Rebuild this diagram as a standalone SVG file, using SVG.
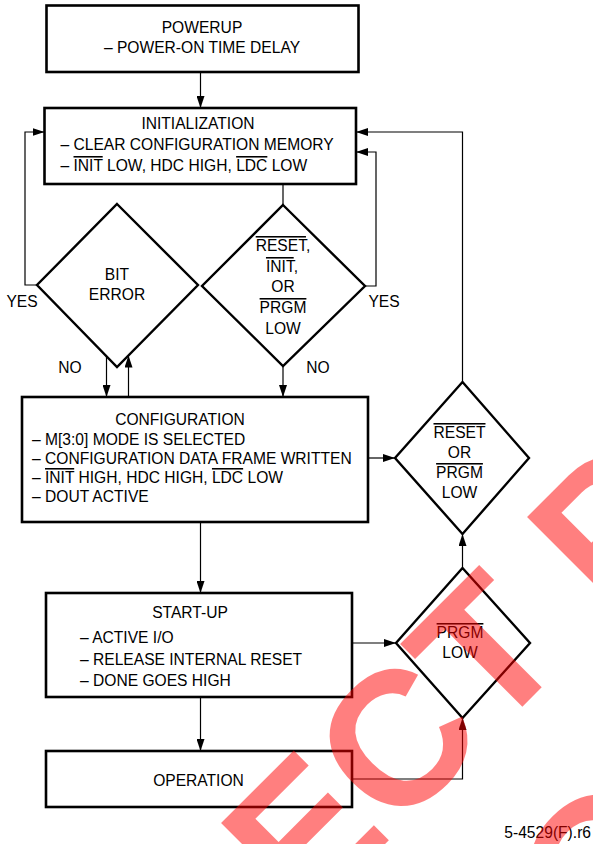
<svg xmlns="http://www.w3.org/2000/svg" width="593" height="844" viewBox="0 0 593 844">
<style>
  .box{fill:#fff;stroke:#000;stroke-width:2.6}
  .dia{fill:#fff;stroke:#000;stroke-width:2.4}
  .t{font-family:"Liberation Sans",Arial,sans-serif;font-size:15.6px;fill:#000}
  .c{text-anchor:middle}
  .ol{text-decoration:overline}
  .con{fill:none;stroke:#000;stroke-width:1.2}
  .wm{font-family:"Liberation Sans",Arial,sans-serif;font-weight:bold;font-size:190px;fill:#ff0000;fill-opacity:0.5}
</style>
<defs>
  <marker id="ah" markerUnits="userSpaceOnUse" markerWidth="12" markerHeight="8" refX="12" refY="4" orient="auto">
    <path d="M0,0 L12,4 L0,8 Z" fill="#000"/>
  </marker>
</defs>
<rect width="593" height="844" fill="#fff"/>

<g id="connectors" class="con" marker-end="url(#ah)">
  <path d="M200.5,72 V108"/>
  <path d="M283,184 V205" marker-end="none"/>
  <path d="M37,285 H25 V132 H44.5"/>
  <path d="M365,286 H376 V152 H356"/>
  <path d="M462.5,382 V132 H356"/>
  <path d="M106.5,356 V397"/>
  <path d="M128.5,397 V355.5"/>
  <path d="M283,366 V397"/>
  <path d="M368,458 H395"/>
  <path d="M200.5,522 V593"/>
  <path d="M352,643 H396"/>
  <path d="M462.5,568 V534"/>
  <path d="M200.5,697 V751"/>
  <path d="M352,779 H462.5 V718"/>
</g>

<g id="powerup">
  <rect class="box" x="46.5" y="5.5" width="312" height="66.5"/>
  <text class="t c" x="202" y="33">POWERUP</text>
  <text class="t c" x="202" y="53">– POWER-ON TIME DELAY</text>
</g>

<g id="initialization">
  <rect class="box" x="44.5" y="108" width="311.5" height="76"/>
  <text class="t c" x="198" y="129">INITIALIZATION</text>
  <text class="t" x="60.5" y="150">– CLEAR CONFIGURATION MEMORY</text>
  <text class="t" x="60.5" y="171">– <tspan class="ol">INIT</tspan> LOW, HDC HIGH, <tspan class="ol">LDC</tspan> LOW</text>
</g>

<g id="bit-error">
  <polygon class="dia" points="117,204 198,285 117,367 37,285"/>
  <text class="t c" x="117" y="280">BIT</text>
  <text class="t c" x="117" y="300">ERROR</text>
</g>

<g id="reset-init-prgm">
  <polygon class="dia" points="283,205 365,286 283,366 202,286"/>
  <text class="t c" x="283" y="251"><tspan class="ol">RESET</tspan>,</text>
  <text class="t c" x="282" y="272"><tspan class="ol">INIT</tspan>,</text>
  <text class="t c" x="283" y="292">OR</text>
  <text class="t c" x="283" y="313"><tspan class="ol">PRGM</tspan></text>
  <text class="t c" x="283" y="334">LOW</text>
</g>

<g id="labels">
  <text class="t c" x="22" y="307">YES</text>
  <text class="t c" x="384" y="307">YES</text>
  <text class="t c" x="70" y="373">NO</text>
  <text class="t c" x="318" y="373">NO</text>
</g>

<g id="configuration">
  <rect class="box" x="22" y="397" width="346" height="125"/>
  <text class="t c" x="180" y="425">CONFIGURATION</text>
  <text class="t" x="32" y="444.5">– M[3:0] MODE IS SELECTED</text>
  <text class="t" x="32" y="463.5">– CONFIGURATION DATA FRAME WRITTEN</text>
  <text class="t" x="32" y="483">– <tspan class="ol">INIT</tspan> HIGH, HDC HIGH, <tspan class="ol">LDC</tspan> LOW</text>
  <text class="t" x="32" y="502">– DOUT ACTIVE</text>
</g>

<g id="reset-prgm">
  <polygon class="dia" points="462.5,382 529,458 462.5,534 395,458"/>
  <text class="t c" x="459.5" y="438"><tspan class="ol">RESET</tspan></text>
  <text class="t c" x="459.5" y="458">OR</text>
  <text class="t c" x="459.5" y="478"><tspan class="ol">PRGM</tspan></text>
  <text class="t c" x="459.5" y="498">LOW</text>
</g>

<g id="start-up">
  <rect class="box" x="46" y="593" width="306" height="104"/>
  <text class="t c" x="190" y="618">START-UP</text>
  <text class="t" x="80" y="643">– ACTIVE I/O</text>
  <text class="t" x="80" y="665">– RELEASE INTERNAL RESET</text>
  <text class="t" x="80" y="686">– DONE GOES HIGH</text>
</g>

<g id="prgm-low">
  <polygon class="dia" points="462.5,568 530,643 462.5,718 396,643"/>
  <text class="t c" x="460" y="638"><tspan class="ol">PRGM</tspan></text>
  <text class="t c" x="460" y="658">LOW</text>
</g>

<g id="operation">
  <rect class="box" x="46" y="751" width="306" height="56"/>
  <text class="t c" x="198.5" y="786">OPERATION</text>
</g>

<text class="t" x="591" y="838" text-anchor="end">5-4529(F).r6</text>

<g id="watermark" transform="translate(304.4,924.6) rotate(-45)">
  <text class="wm" x="0" y="0" xml:space="preserve">ECT P</text>
  <text class="wm" x="178" y="231.6">O</text>
</g>
</svg>
